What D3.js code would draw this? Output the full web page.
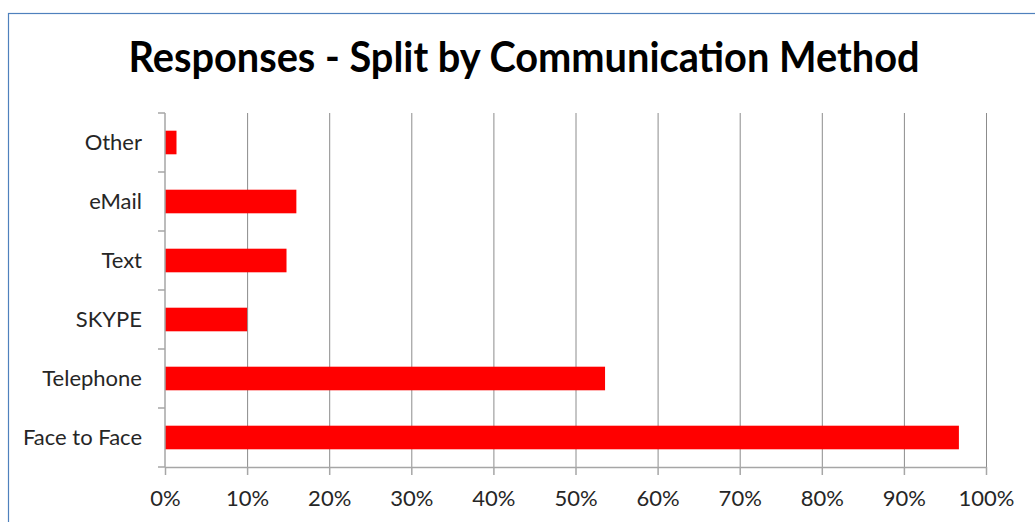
<!DOCTYPE html>
<html>
<head>
<meta charset="utf-8">
<script src="https://cdn.jsdelivr.net/npm/d3@7"></script>
<style>
  html, body { margin: 0; padding: 0; background: #fff; }
  svg { display: block; }
</style>
</head>
<body>
<div id="chart"></div>
<script>
// chart data
const categories = ['Other', 'eMail', 'Text', 'SKYPE', 'Telephone', 'Face to Face'];
const shares = [0.014, 0.160, 0.148, 0.100, 0.536, 0.967];
const xTicks = [0, 0.1, 0.2, 0.3, 0.4, 0.5, 0.6, 0.7, 0.8, 0.9, 1];
const title = 'Responses - Split by Communication Method';

const width = 1035;
const height = 522;
const plot = { left: 165, right: 986, top: 113, bottom: 467 };

const svg = d3.select('#chart')
    .append('svg')
        .attr('width', width)
        .attr('height', height);

// chart border (only top/left edges fall inside the picture)
svg.append('rect')
    .attr('x', 8.5)
    .attr('y', 13.5)
    .attr('width', width + 20)
    .attr('height', height + 20)
    .attr('fill', 'none')
    .attr('stroke', '#4f81bd')
    .attr('stroke-width', 1.2);

svg.append('text')
    .attr('x', 524)
    .attr('y', 72)
    .attr('text-anchor', 'middle')
    .attr('textLength', 791)
    .attr('lengthAdjust', 'spacingAndGlyphs')
    .style('font-family', 'Lato, "Open Sans", sans-serif')
    .style('font-weight', 'bold')
    .style('font-size', '42px')
    .style('fill', '#000')
    .text(title);

const x = d3.scaleLinear()
    .domain([0, 1])
    .range([plot.left, plot.right]);

const y = d3.scaleBand()
    .domain(categories)
    .range([plot.top, plot.bottom])
    .paddingInner(0.6)
    .paddingOuter(0.3);

// vertical gridlines
svg.append('g')
    .selectAll('line')
    .data(xTicks.slice(1))
    .enter()
    .append('line')
        .attr('x1', d => x(d) + 0.5)
        .attr('x2', d => x(d) + 0.5)
        .attr('y1', plot.top)
        .attr('y2', plot.bottom)
        .attr('stroke', '#8c8c8c')
        .attr('stroke-width', 1);

// bars
svg.append('g')
    .selectAll('rect')
    .data(categories)
    .enter()
    .append('rect')
        .attr('x', x(0))
        .attr('y', d => y(d))
        .attr('width', (d, i) => x(shares[i]) - x(0))
        .attr('height', y.bandwidth())
        .attr('fill', '#ff0000');

// x axis
const xAxis = svg.append('g')
    .attr('transform', 'translate(0,' + plot.bottom + ')')
    .call(d3.axisBottom(x)
        .tickValues(xTicks)
        .tickSize(8)
        .tickSizeOuter(0)
        .tickFormat(d3.format('.0%')));

xAxis.select('.domain')
    .attr('stroke', '#a6a6a6')
    .attr('stroke-width', 1.5);

xAxis.selectAll('.tick line')
    .attr('stroke', '#a6a6a6')
    .attr('stroke-width', 1.5);

xAxis.selectAll('.tick text')
    .attr('y', 39)
    .attr('dy', 0)
    .style('font-family', 'Lato, sans-serif')
    .style('font-size', '22px')
    .style('fill', '#262626');

// y axis line and boundary ticks
const boundaries = categories.map(c => y(c) - y.step() * y.paddingInner() / 2);
boundaries.push(plot.bottom);

const yAxis = svg.append('g');

yAxis.append('line')
    .attr('x1', plot.left)
    .attr('x2', plot.left)
    .attr('y1', plot.top)
    .attr('y2', plot.bottom)
    .attr('stroke', '#a6a6a6')
    .attr('stroke-width', 1.5);

yAxis.selectAll('line.tick')
    .data(boundaries)
    .enter()
    .append('line')
        .attr('class', 'tick')
        .attr('x1', plot.left - 7)
        .attr('x2', plot.left)
        .attr('y1', d => d)
        .attr('y2', d => d)
        .attr('stroke', '#a6a6a6')
        .attr('stroke-width', 1.5);

yAxis.selectAll('text')
    .data(categories)
    .enter()
    .append('text')
        .attr('x', 142)
        .attr('y', d => y(d) + y.bandwidth() / 2)
        .attr('dy', '0.35em')
        .attr('text-anchor', 'end')
        .style('font-family', 'Lato, sans-serif')
        .style('font-size', '22px')
        .style('fill', '#262626')
        .text(d => d);
</script>
</body>
</html>
